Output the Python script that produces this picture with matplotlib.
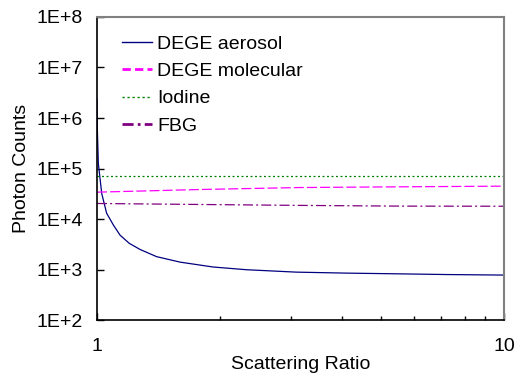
import matplotlib
matplotlib.use('Agg')
import matplotlib.pyplot as plt
from matplotlib.lines import Line2D

plt.rcParams['font.family'] = ['Liberation Sans', 'DejaVu Sans']

# 散射比 / 光子计数
aerosol_x = [1.0, 1.002, 1.0075, 1.027, 1.056, 1.097, 1.139, 1.2, 1.275, 1.4, 1.6,
             1.93, 2.33, 3.09, 4.11, 5.45, 7.23, 10.0]
aerosol_y = [2.4e6, 5.8e5, 1.26e5, 3.2e4, 1.3e4, 7.6e3, 4.8e3, 3.3e3, 2.5e3, 1.8e3, 1.4e3,
             1.12e3, 990, 887, 848, 822, 795, 776]

mol_x = [1.0, 1.79, 3.15, 5.55, 10.0]
mol_y = [3.4e4, 3.84e4, 4.2e4, 4.34e4, 4.47e4]

iodine_x = [1.0, 10.0]
iodine_y = [7.0e4, 7.0e4]

fbg_x = [1.0, 1.79, 3.15, 5.55, 10.0]
fbg_y = [2.03e4, 1.94e4, 1.86e4, 1.8e4, 1.79e4]

y_ticks = [1e2, 1e3, 1e4, 1e5, 1e6, 1e7, 1e8]
y_labels = ['1E+2', '1E+3', '1E+4', '1E+5', '1E+6', '1E+7', '1E+8']

fig = plt.figure(figsize=(5.23, 3.76), dpi=100)
ax = fig.add_axes([0.1855, 0.1489, 0.7782, 0.8059])

ax.plot(aerosol_x, aerosol_y, color='#000080', lw=0.9)
ax.plot(mol_x, mol_y, color='#FF00FF', lw=0.9, dashes=(8, 2.5))
ax.plot(iodine_x, iodine_y, color='#008000', lw=0.9, dashes=(1.6, 2))
ax.plot(fbg_x, fbg_y, color='#800080', lw=0.9, dashes=(8, 2.5, 1.6, 2.5))

ax.set_xscale('log')
ax.set_yscale('log')
ax.set_xlim(1, 10)
ax.set_ylim(1e2, 1e8)
ax.set_yticks(y_ticks)
ax.set_yticklabels(y_labels)
ax.yaxis.set_minor_locator(matplotlib.ticker.NullLocator())
ax.set_xticks([1, 10])
ax.set_xticklabels(['1', '10'])
ax.xaxis.set_minor_locator(matplotlib.ticker.LogLocator(base=10, subs=range(2, 10)))
ax.xaxis.set_minor_formatter(matplotlib.ticker.NullFormatter())

ax.tick_params(axis='both', which='major', direction='in', length=5, width=1, labelsize=14)
ax.tick_params(axis='y', which='major', pad=10)
ax.tick_params(axis='x', which='minor', direction='in', length=3, width=1)
ax.tick_params(axis='x', which='major', pad=13)

for s in ['left', 'bottom']:
    ax.spines[s].set_color('black')
    ax.spines[s].set_linewidth(1.2)
for s in ['top', 'right']:
    ax.spines[s].set_color('#808080')
    ax.spines[s].set_linewidth(1.5)

ax.set_xlabel('Scattering Ratio', fontsize=14, labelpad=0.5)
ax.set_ylabel('Photon Counts', fontsize=14, labelpad=5)

# 图例（线条比图中略粗）
handles = [
    Line2D([], [], color='#000080', lw=1.0),
    Line2D([], [], color='#FF00FF', lw=2.0, dashes=(3, 1.5)),
    Line2D([], [], color='#008000', lw=1.0, dashes=(1.6, 2)),
    Line2D([], [], color='#800080', lw=2.0, dashes=(4, 1.5, 1, 1.5)),
]
labels = ['DEGE aerosol', 'DEGE molecular', 'Iodine', 'FBG']
ax.legend(handles, labels, loc='upper left', bbox_to_anchor=(0.061, 0.94), frameon=False,
          fontsize=14, handlelength=1.54, handletextpad=0.28, labelspacing=0.5,
          borderpad=0, borderaxespad=0)

plt.savefig('out.png', dpi=100)
